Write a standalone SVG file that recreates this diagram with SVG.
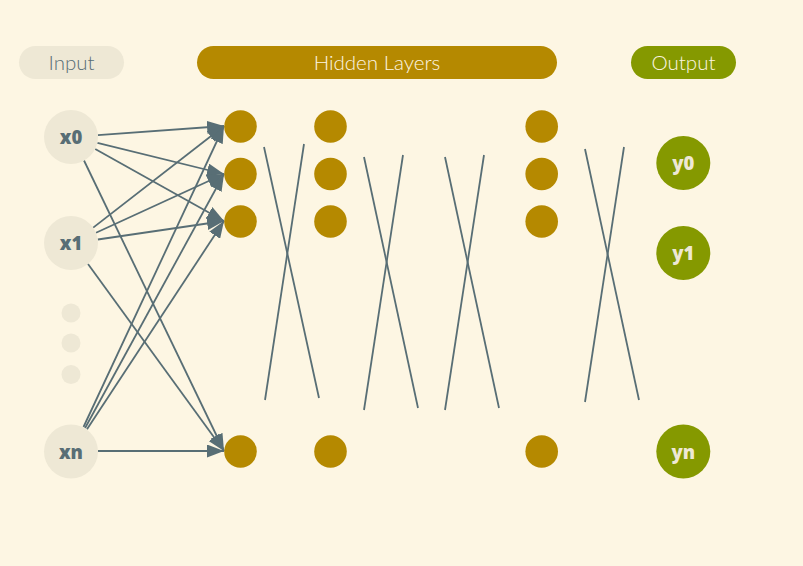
<svg xmlns="http://www.w3.org/2000/svg" width="803" height="566" viewBox="0 0 803 566">
<defs>
<style>
.pill-t{font-family:Lato,"Open Sans","Liberation Sans",sans-serif;font-weight:300;font-size:20.5px;text-anchor:middle}
.lbl{font-family:"Open Sans",Lato,"Liberation Sans",sans-serif;font-weight:800;font-size:18.5px;text-anchor:middle}
.in{fill:#eee8d5}
.hid{fill:#b58900}
.out{fill:#859900}
.conn line{stroke:#586e75;stroke-width:1.8;fill:none}
.arr{marker-end:url(#ah)}
</style>
<marker id="ah" markerUnits="userSpaceOnUse" markerWidth="18" markerHeight="13" refX="17" refY="6.5" orient="auto">
<path d="M0,0 L17,6.5 L0,13 z" fill="#586e75"/>
</marker>
</defs>
<rect width="803" height="566" fill="#fdf6e3"/>

<g id="pill-input"><rect x="19" y="46" width="105" height="33" rx="16.5" fill="#eee8d5"/><text class="pill-t" x="71.5" y="70" fill="#586e75">Input</text></g>
<g id="pill-hidden"><rect x="197" y="46" width="360" height="33" rx="16.5" fill="#b58900"/><text class="pill-t" x="377" y="70" fill="#fdf6e3">Hidden Layers</text></g>
<g id="pill-output"><rect x="631" y="46" width="105" height="33" rx="16.5" fill="#859900"/><text class="pill-t" x="683.5" y="70" fill="#fdf6e3">Output</text></g>

<g id="connectors" class="conn">
<line class="arr" x1="97.9" y1="135.2" x2="224" y2="126"/>
<line class="arr" x1="97.4" y1="142.8" x2="224" y2="174"/>
<line class="arr" x1="95.2" y1="149" x2="224" y2="221"/>
<line class="arr" x1="84" y1="160.5" x2="224" y2="451"/>
<line class="arr" x1="93.2" y1="227.6" x2="224" y2="126"/>
<line class="arr" x1="96" y1="232.8" x2="224" y2="174"/>
<line class="arr" x1="97.8" y1="239.5" x2="224" y2="221"/>
<line class="arr" x1="88" y1="264" x2="224" y2="451"/>
<line class="arr" x1="83.5" y1="427" x2="224" y2="126"/>
<line class="arr" x1="85.1" y1="428" x2="224" y2="174"/>
<line class="arr" x1="87" y1="429.2" x2="224" y2="221"/>
<line class="arr" x1="98" y1="451" x2="224" y2="451"/>
<line x1="264" y1="147" x2="319" y2="398"/>
<line x1="304" y1="144" x2="265" y2="400"/>
<line x1="364" y1="157" x2="418" y2="408"/>
<line x1="403" y1="155" x2="364" y2="410"/>
<line x1="445" y1="157" x2="499" y2="408"/>
<line x1="484" y1="155" x2="445" y2="410"/>
<line x1="585" y1="149" x2="639" y2="400"/>
<line x1="624" y1="147" x2="585" y2="402"/>
</g>

<g id="x0"><circle class="in" cx="71" cy="137" r="27"/><text class="lbl" x="71" y="144" fill="#586e75">x0</text></g>
<g id="x1"><circle class="in" cx="71" cy="243" r="27"/><text class="lbl" x="71" y="250" fill="#586e75">x1</text></g>
<g id="dots"><circle class="in" cx="71" cy="313" r="9.5"/><circle class="in" cx="71" cy="343" r="9.5"/><circle class="in" cx="71" cy="374.5" r="9.5"/></g>
<g id="xn"><circle class="in" cx="71" cy="451.5" r="27"/><text class="lbl" x="71" y="458.5" fill="#586e75">xn</text></g>

<g id="h1-0"><circle class="hid" cx="240.5" cy="126.5" r="16.3"/></g>
<g id="h1-1"><circle class="hid" cx="240.5" cy="174" r="16.3"/></g>
<g id="h1-2"><circle class="hid" cx="240.5" cy="221.5" r="16.3"/></g>
<g id="h1-n"><circle class="hid" cx="240.5" cy="451.5" r="16.3"/></g>
<g id="h2-0"><circle class="hid" cx="330.5" cy="126.5" r="16.3"/></g>
<g id="h2-1"><circle class="hid" cx="330.5" cy="174" r="16.3"/></g>
<g id="h2-2"><circle class="hid" cx="330.5" cy="221.5" r="16.3"/></g>
<g id="h2-n"><circle class="hid" cx="330.5" cy="451.5" r="16.3"/></g>
<g id="h3-0"><circle class="hid" cx="541.7" cy="126.5" r="16.3"/></g>
<g id="h3-1"><circle class="hid" cx="541.7" cy="174" r="16.3"/></g>
<g id="h3-2"><circle class="hid" cx="541.7" cy="221.5" r="16.3"/></g>
<g id="h3-n"><circle class="hid" cx="541.7" cy="451.5" r="16.3"/></g>

<g id="y0"><circle class="out" cx="683.3" cy="163" r="27"/><text class="lbl" x="683.3" y="170" fill="#eee8d5">y0</text></g>
<g id="y1"><circle class="out" cx="683.3" cy="253" r="27"/><text class="lbl" x="683.3" y="260" fill="#eee8d5">y1</text></g>
<g id="yn"><circle class="out" cx="683.3" cy="451.5" r="27"/><text class="lbl" x="683.3" y="458.5" fill="#eee8d5">yn</text></g>
</svg>
